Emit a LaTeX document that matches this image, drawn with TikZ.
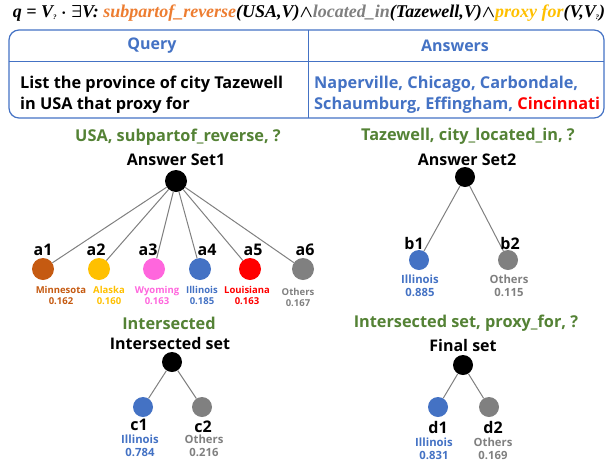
\documentclass[tikz,border=0pt]{standalone}
\usepackage{fontspec}
\setmainfont{Open Sans}
\newfontfamily\formfont{Liberation Serif}
\definecolor{qblue}{RGB}{68,114,196}
\definecolor{tgreen}{RGB}{84,130,53}
\definecolor{fgray}{RGB}{128,128,128}
\definecolor{forange}{RGB}{237,125,49}
\definecolor{fgold}{RGB}{255,192,0}
\definecolor{cbrown}{RGB}{197,90,17}
\definecolor{cpink}{RGB}{255,102,221}
\definecolor{cred}{RGB}{255,0,0}
\newcommand{\qsub}{\raisebox{-.3ex}{\scriptsize ?}}
\newcommand{\queryformula}{q = V\qsub{} {\boldmath$\cdot$} {\boldmath$\exists$}V: \textcolor{forange}{subpartof\_reverse}(USA,V){\boldmath$\wedge$}\textcolor{fgray}{located\_in}(Tazewell,V){\boldmath$\wedge$}\textcolor{fgold}{proxy for}(V,V\qsub)}
\begin{document}
\begin{tikzpicture}[x=1pt, y=-1pt,
	dot/.style={circle, inner sep=0, minimum size=20pt},
	bigdot/.style={dot, minimum size=22pt},
	lbl/.style={inner sep=0, font=\fontsize{16}{18}\selectfont\bfseries},
	ttl/.style={inner sep=0, text=tgreen, font=\fontsize{16.3}{18}\selectfont\bfseries},
	tiny/.style={inner sep=0, align=center, font=\fontsize{9.5}{11}\selectfont\bfseries},
	small/.style={inner sep=0, align=center, font=\fontsize{11.3}{13}\selectfont\bfseries},
	edge/.style={draw=fgray, line width=1pt}]
	\useasboundingbox (0,0) rectangle (608,464);
	\node[inner sep=0, font=\fontsize{18}{20}\formfont\bfseries\itshape] (formula) at (309,13) {\queryformula};
	% Tabelle
	\draw[qblue, line width=1.2pt, rounded corners=10pt] (9,30) rectangle (604,118);
	\draw[qblue, line width=1pt] (308,30) -- (308,118) (9,61) -- (604,61);
	\node[lbl, text=qblue] (query)   at (152,46) {Query};
	\node[lbl, text=qblue] (answers) at (455,46) {Answers};
	\node[lbl, anchor=west, align=left, font=\fontsize{16.3}{21}\selectfont\bfseries] (qtext) at (20,95) {List the province of city Tazewell\\in USA that proxy for};
	\node[lbl, anchor=west, align=left, text=qblue, font=\fontsize{16.3}{21}\selectfont\bfseries] (atext) at (314,95) {Naperville, Chicago, Carbondale,\\Schaumburg, Effingham, \textcolor{cred}{Cincinnati}};
	% Answer Set1
	\node[ttl] (t1) at (178,137) {USA, subpartof\_reverse, ?};
	\node[lbl] (s1) at (176,160) {Answer Set1};
	\node[bigdot, fill=black]  (r1) at (176,181) {};
	\node[bigdot, fill=cbrown] (a1) at (43,269)  {};
	\node[bigdot, fill=fgold]  (a2) at (99,269)  {};
	\node[bigdot, fill=cpink]  (a3) at (154,269) {};
	\node[bigdot, fill=qblue]  (a4) at (200,269) {};
	\node[bigdot, fill=cred]   (a5) at (250,269) {};
	\node[bigdot, fill=fgray]  (a6) at (303,269) {};
	\draw[edge] (r1) -- (a1) (r1) -- (a2) (r1) -- (a3) (r1) -- (a4) (r1) -- (a5) (r1) -- (a6);
	\node[lbl] (la1) at (43,250)  {a1};
	\node[lbl] (la2) at (96,250)  {a2};
	\node[lbl] (la3) at (148,250) {a3};
	\node[lbl] (la4) at (207,250) {a4};
	\node[lbl] (la5) at (253,250) {a5};
	\node[lbl] (la6) at (305,250) {a6};
	\node[tiny, text=cbrown] (va1) at (61,295)  {Minnesota\\0.162};
	\node[tiny, text=fgold]  (va2) at (109,295) {Alaska\\0.160};
	\node[tiny, text=cpink]  (va3) at (157,295) {Wyoming\\0.163};
	\node[tiny, text=qblue]  (va4) at (202,295) {Illinois\\0.185};
	\node[tiny, text=cred]   (va5) at (247,295) {Louisiana\\0.163};
	\node[tiny, text=fgray]  (va6) at (298,297) {Others\\0.167};
	% Answer Set2
	\node[ttl] (t2) at (468,136) {Tazewell, city\_located\_in, ?};
	\node[lbl] (s2) at (467,160) {Answer Set2};
	\node[dot, fill=black] (r2) at (465,177) {};
	\node[dot, fill=qblue] (b1) at (419,260) {};
	\node[dot, fill=fgray] (b2) at (508,260) {};
	\draw[edge] (r2) -- (b1) (r2) -- (b2);
	\node[lbl] (lb1) at (414,243) {b1};
	\node[lbl] (lb2) at (510,243) {b2};
	\node[small, text=qblue] (vb1) at (420,286) {Illinois\\0.885};
	\node[small, text=fgray] (vb2) at (509,286) {Others\\0.115};
	% Intersected set
	\node[ttl] (t3) at (169,323) {Intersected};
	\node[lbl] (s3) at (170,343) {Intersected set};
	\node[dot, fill=black] (r3) at (172,362) {};
	\node[dot, fill=qblue] (c1) at (143,407) {};
	\node[dot, fill=fgray] (c2) at (202,407) {};
	\draw[edge] (r3) -- (c1) (r3) -- (c2);
	\node[lbl] (lc1) at (139,425) {c1};
	\node[lbl] (lc2) at (203,427) {c2};
	\node[small, text=qblue] (vc1) at (140,446) {Illinois\\0.784};
	\node[small, text=fgray] (vc2) at (204,446) {Others\\0.216};
	% Final set
	\node[ttl] (t4) at (466,323) {Intersected set, proxy\_for, ?};
	\node[lbl] (s4) at (463,345) {Final set};
	\node[dot, fill=black] (r4) at (463,365) {};
	\node[dot, fill=qblue] (d1) at (438,407) {};
	\node[dot, fill=fgray] (d2) at (489,407) {};
	\draw[edge] (r4) -- (d1) (r4) -- (d2);
	\node[lbl] (ld1) at (438,427) {d1};
	\node[lbl] (ld2) at (493,427) {d2};
	\node[small, text=qblue] (vd1) at (434,449) {Illinois\\0.831};
	\node[small, text=fgray] (vd2) at (493,449) {Others\\0.169};
\end{tikzpicture}
\end{document}
